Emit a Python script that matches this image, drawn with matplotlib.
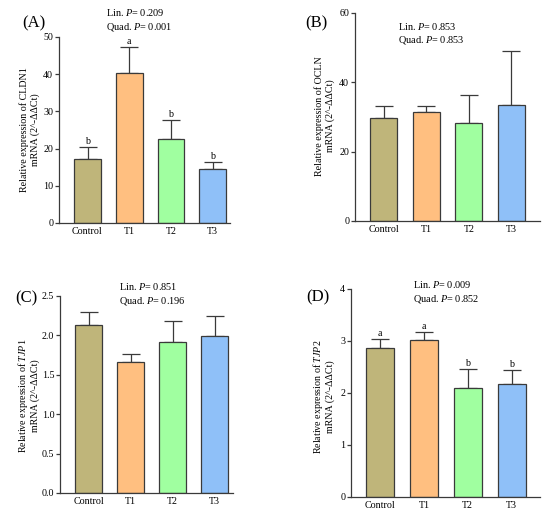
import matplotlib
matplotlib.use("Agg")
import matplotlib.pyplot as plt
import numpy as np

# data
groups = ["Control", "T1", "T2", "T3"]

cldn1_mean = [17.3, 40.3, 22.6, 14.6]
cldn1_err = [3.0, 7.0, 5.0, 1.7]
cldn1_letters = ["b", "a", "b", "b"]

ocln_mean = [29.6, 31.4, 28.2, 33.3]
ocln_err = [3.6, 1.6, 8.0, 15.6]

tjp1_mean = [2.13, 1.66, 1.91, 1.99]
tjp1_err = [0.17, 0.11, 0.27, 0.26]

tjp2_mean = [2.86, 3.01, 2.10, 2.17]
tjp2_err = [0.17, 0.16, 0.36, 0.27]
tjp2_letters = ["a", "a", "b", "b"]

COLORS = ["#BFB57A", "#FFBF80", "#A0FFA0", "#8FC0F8"]
EDGE = "#3A3A3A"

plt.rcParams.update(
    {
        "font.family": "Liberation Serif",
        "font.size": 7.2,
        "mathtext.fontset": "custom",
        "mathtext.rm": "Liberation Serif",
        "mathtext.it": "Liberation Serif:italic",
        "mathtext.bf": "Liberation Serif:bold",
        "axes.linewidth": 0.9,
        "axes.edgecolor": EDGE,
    }
)

W, H = 550, 517
fig = plt.figure(figsize=(W / 100, H / 100), dpi=100)
fig.patch.set_facecolor("white")


def px_axes(left, right, top, bottom):
    return fig.add_axes([left / W, 1 - bottom / H, (right - left) / W, (bottom - top) / H])


def draw_panel(ax, means, errs, xlim, ylim, yticks, fmt, letters=None):
    x = np.arange(len(groups))
    ax.errorbar(
        x,
        means,
        yerr=[np.zeros(len(errs)), errs],
        fmt="none",
        ecolor=EDGE,
        elinewidth=0.9,
        capsize=6.5,
        capthick=0.9,
        zorder=1,
    )
    ax.bar(x, means, width=0.64, color=COLORS, edgecolor=EDGE, linewidth=0.9, zorder=2)
    ax.set_xlim(*xlim)
    ax.set_ylim(*ylim)
    ax.set_yticks(yticks)
    ax.set_yticklabels([fmt.format(v) for v in yticks])
    ax.set_xticks(x)
    ax.set_xticklabels(groups)
    ax.tick_params(axis="x", length=0, pad=3, labelsize=7.2)
    ax.tick_params(axis="y", length=2.6, width=0.9, pad=1.5, labelsize=7.2, color=EDGE)
    for side in ("top", "right"):
        ax.spines[side].set_visible(False)
    if letters:
        for xi, m, e, lab in zip(x, means, errs, letters):
            ax.annotate(
                lab,
                (xi, m + e),
                xytext=(0, 1.0),
                textcoords="offset points",
                ha="center",
                va="bottom",
                fontsize=7.2,
            )


axA = px_axes(59, 230, 37, 223)
draw_panel(axA, cldn1_mean, cldn1_err, (-0.684, 3.42), (0, 50), [0, 10, 20, 30, 40, 50], "{:.0f}", cldn1_letters)

axB = px_axes(355, 540, 12.5, 221)
draw_panel(axB, ocln_mean, ocln_err, (-0.668, 3.668), (0, 60), [0, 20, 40, 60], "{:.0f}")

axC = px_axes(60, 233, 296, 493)
draw_panel(axC, tjp1_mean, tjp1_err, (-0.68, 3.44), (0, 2.5), [0, 0.5, 1.0, 1.5, 2.0, 2.5], "{:.1f}")

axD = px_axes(351, 540, 289, 497)
draw_panel(axD, tjp2_mean, tjp2_err, (-0.67, 3.65), (0, 4), [0, 1, 2, 3, 4], "{:.0f}", tjp2_letters)


def ftext(x, y, s, **kw):
    fig.text(x / W, 1 - y / H, s, **kw)


# panel letters
for lab, (x, y) in zip(["(A)", "(B)", "(C)", "(D)"], [(22, 23), (305, 23), (15, 298), (306, 297)]):
    ftext(x, y, lab, fontsize=12, ha="left", va="center")

# trend P values
p_texts = [
    ((106, 13), "0.209", "0.001"),
    ((398, 26), "0.853", "0.853"),
    ((119, 287), "0.851", "0.196"),
    ((413, 285), "0.009", "0.852"),
]
for (x, y), lin, quad in p_texts:
    ftext(x, y, "Lin. $\\mathit{P}$= " + lin, fontsize=7.4, ha="left", va="center")
    ftext(x, y + 14, "Quad. $\\mathit{P}$= " + quad, fontsize=7.4, ha="left", va="center")

# y labels
ylabels = [
    ((30, 130), "Relative expression of CLDN1\nmRNA (2^-ΔΔCt)"),
    ((325, 116), "Relative expression of OCLN\nmRNA (2^-ΔΔCt)"),
    ((28, 396), "Relative expression of $\\mathit{TJP1}$\nmRNA (2^-ΔΔCt)"),
    ((323, 397), "Relative expression of $\\mathit{TJP2}$\nmRNA (2^-ΔΔCt)"),
]
for (x, y), s in ylabels:
    ftext(x, y, s, fontsize=7.2, rotation=90, ha="center", va="center", multialignment="center", linespacing=1.15)

fig.savefig("out.png", dpi=100, facecolor="white")
